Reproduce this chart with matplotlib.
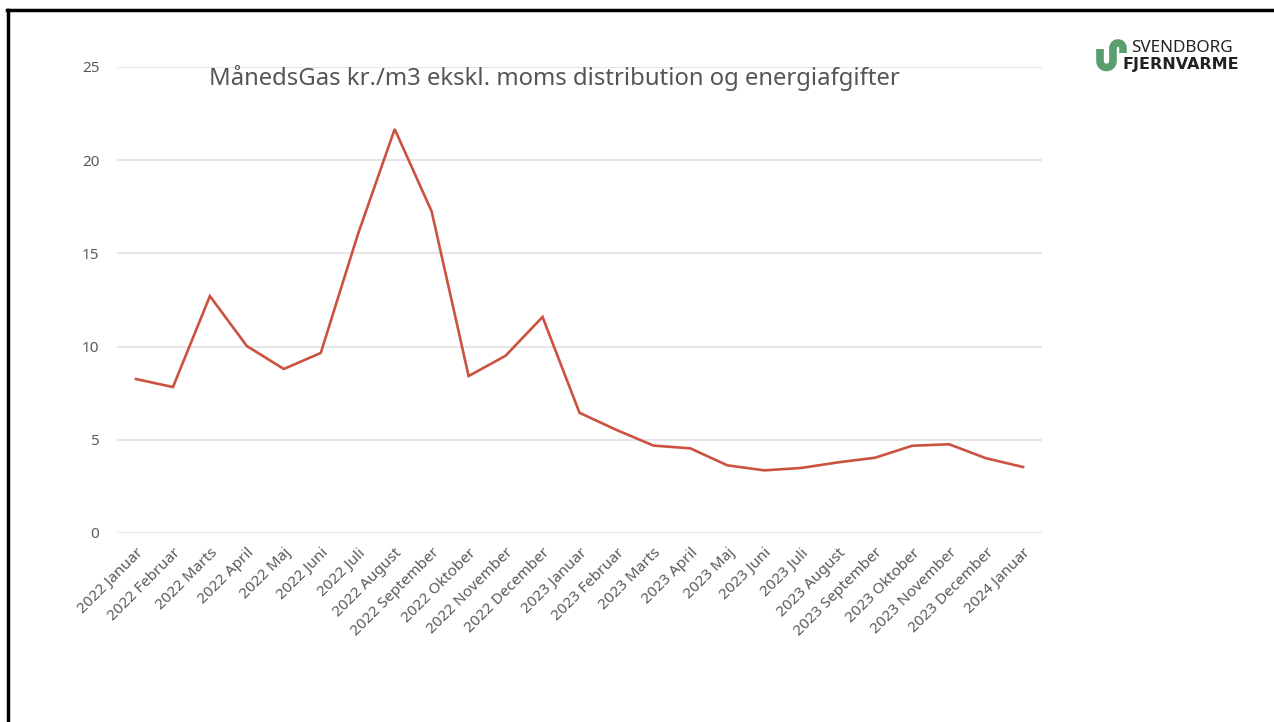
import matplotlib
matplotlib.use('Agg')
import matplotlib.pyplot as plt
from matplotlib.lines import Line2D
import numpy as np

# months and price (kr./m3)
months = ['2022 Januar', '2022 Februar', '2022 Marts', '2022 April', '2022 Maj',
          '2022 Juni', '2022 Juli', '2022 August', '2022 September', '2022 Oktober',
          '2022 November', '2022 December', '2023 Januar', '2023 Februar',
          '2023 Marts', '2023 April', '2023 Maj', '2023 Juni', '2023 Juli',
          '2023 August', '2023 September', '2023 Oktober', '2023 November',
          '2023 December', '2024 Januar']
prices = [8.26, 7.83, 12.71, 10.03, 8.80, 9.66, 16.0, 21.67, 17.25, 8.42,
          9.51, 11.59, 6.45, 5.53, 4.69, 4.54, 3.63, 3.36, 3.49, 3.79,
          4.04, 4.68, 4.76, 4.01, 3.54]
yticks = [0, 5, 10, 15, 20, 25]

plt.rcParams['font.family'] = ['Noto Sans', 'DejaVu Sans']

W, H = 1274, 722
fig = plt.figure(figsize=(W / 100, H / 100), dpi=100)
ax = fig.add_axes([117.5 / W, 189 / H, 924 / W, 466 / H])

x = list(range(len(months)))
ax.plot(x, prices, color='#cc5240', lw=1.9, solid_joinstyle='miter')

ax.set_xlim(-0.5, len(months) - 0.5)
ax.set_ylim(0, 25)
ax.set_yticks(yticks)
ax.set_xticks(x)
ax.set_xticklabels(months, rotation=45, ha='right', rotation_mode='anchor')
ax.tick_params(length=0, colors='#5a5a5a', labelsize=11)
ax.tick_params(axis='y', pad=13)
ax.tick_params(axis='x', pad=9)
ax.grid(axis='y', color='#e3e3e3', lw=1.3)
ax.set_axisbelow(True)
for s in ax.spines.values():
    s.set_visible(False)

fig.text(554 / W, 1 - 78 / H, 'MånedsGas kr./m3 ekskl. moms distribution og energiafgifter',
         ha='center', va='center', fontsize=17.2, color='#555555')

# frame lines (left and top)
fig.add_artist(Line2D([8 / W, 8 / W], [0, 1 - 10 / H], color='black', lw=2.5,
                      transform=fig.transFigure))
fig.add_artist(Line2D([7 / W, 1], [1 - 10 / H, 1 - 10 / H], color='black', lw=2.5,
                      transform=fig.transFigure))

# logo icon (pixel coords, y down)
t1 = np.linspace(np.pi, 0, 20)
t2 = np.linspace(np.pi, 0, 20)
lx = np.concatenate([[1100, 1100], 1106.5 + 6.5 * np.cos(t1), [1113],
                     1118 + 5 * np.cos(t2), [1123]])
ly = np.concatenate([[49, 61], 61 + 6.5 * np.sin(t1), [48],
                     48 - 5 * np.sin(t2), [53]])
fig.add_artist(Line2D(lx / W, 1 - ly / H, color='#5a9e6e', lw=5.5,
                      solid_capstyle='butt', transform=fig.transFigure))
fig.text(1131 / W, 1 - 48.5 / H, 'SVENDBORG', ha='left', va='center', fontsize=12.3,
         color='#222222')
fig.text(1122 / W, 1 - 64.5 / H, 'FJERNVARME', ha='left', va='center', fontsize=11.5,
         color='#222222', family='DejaVu Sans', fontweight='bold')

fig.savefig('out.png', dpi=100)
